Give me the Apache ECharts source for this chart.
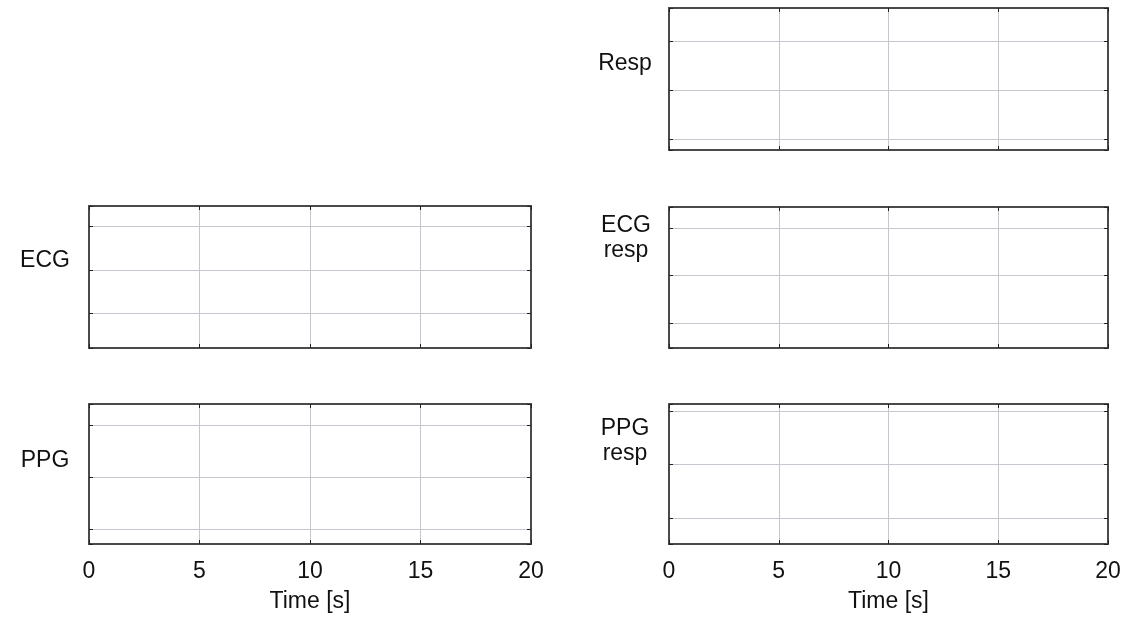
<!DOCTYPE html>
<html>
<head>
<meta charset="utf-8">
<script src="https://cdn.jsdelivr.net/npm/echarts@6/dist/echarts.min.js"></script>
<style>
  html, body { margin: 0; padding: 0; background: #ffffff; }
  #chart { width: 1125px; height: 619px; }
</style>
</head>
<body>
<div id="chart"></div>
<script>
// ---- data ----
const timeTicks = [0, 5, 10, 15, 20];
const panelNames = ['Resp', 'ECG', 'ECG\nresp', 'PPG', 'PPG\nresp'];
const yMinValues = [-1.22, -1.79, -1.53, -1.29, -1.49];
const yMaxValues = [1.67, 1.46, 1.44, 1.40, 1.13];
const xAxisTitle = 'Time [s]';
const respData = [];
const ecgData = [];
const ecgRespData = [];
const ppgData = [];
const ppgRespData = [];
const seriesData = [respData, ecgData, ecgRespData, ppgData, ppgRespData];

// ---- layout ----
const FONT = 'Liberation Sans, Arial, Helvetica, sans-serif';
const FS = 23;
const grids = [
  { left: 669, top: 8,   width: 439, height: 142 },
  { left: 89,  top: 206, width: 442, height: 142 },
  { left: 669, top: 207, width: 439, height: 141 },
  { left: 89,  top: 404, width: 442, height: 140 },
  { left: 669, top: 404, width: 439, height: 140 }
];
const showXLabels = [false, false, false, true, true];
const labelPos = [[625, 64], [45, 261], [626, 238], [45, 461], [625, 441]];

const lineCol = '#4a4a4a';
const gridCol = '#c6c6ce';
const tickCol = '#222222';

const xAxes = [], yAxes = [], series = [], graphics = [];
grids.forEach((g, i) => {
  const xMin = timeTicks[0], xMax = timeTicks[timeTicks.length - 1];
  const xInt = timeTicks[1] - timeTicks[0];
  xAxes.push({
    type: 'value', gridIndex: i, position: 'bottom', min: xMin, max: xMax, interval: xInt,
    axisLine: { show: true, onZero: false, lineStyle: { color: lineCol, width: 2 } },
    axisTick: { show: true, inside: true, length: 4, lineStyle: { color: tickCol } },
    axisLabel: { show: showXLabels[i], fontSize: FS, fontFamily: FONT, color: '#111', margin: 16 },
    splitLine: { show: true, lineStyle: { color: gridCol, width: 1 } },
    name: showXLabels[i] ? xAxisTitle : '',
    nameLocation: 'middle', nameGap: 46,
    nameTextStyle: { fontSize: FS, fontFamily: FONT, color: '#111' }
  });
  xAxes.push({
    type: 'value', gridIndex: i, position: 'top', min: xMin, max: xMax, interval: xInt,
    axisLine: { show: true, onZero: false, lineStyle: { color: lineCol, width: 2 } },
    axisTick: { show: true, inside: true, length: 4, lineStyle: { color: tickCol } },
    axisLabel: { show: false }, splitLine: { show: false }
  });
  yAxes.push({
    type: 'value', gridIndex: i, position: 'left', min: yMinValues[i], max: yMaxValues[i], splitNumber: 3,
    axisLine: { show: true, onZero: false, lineStyle: { color: lineCol, width: 2 } },
    axisTick: { show: true, inside: true, length: 4, lineStyle: { color: tickCol } },
    axisLabel: { show: false },
    splitLine: { show: true, lineStyle: { color: gridCol, width: 1 } }
  });
  yAxes.push({
    type: 'value', gridIndex: i, position: 'right', min: yMinValues[i], max: yMaxValues[i], splitNumber: 3,
    axisLine: { show: true, onZero: false, lineStyle: { color: lineCol, width: 2 } },
    axisTick: { show: true, inside: true, length: 4, lineStyle: { color: tickCol } },
    axisLabel: { show: false }, splitLine: { show: false }
  });
  series.push({
    type: 'line', name: panelNames[i].replace('\n', ' '),
    xAxisIndex: 2 * i, yAxisIndex: 2 * i,
    data: seriesData[i], showSymbol: false,
    lineStyle: { color: '#000', width: 1 }
  });
  graphics.push({
    type: 'text', x: labelPos[i][0], y: labelPos[i][1],
    style: {
      text: panelNames[i], fontSize: FS, fontFamily: FONT, fill: '#111',
      textAlign: 'center', textVerticalAlign: 'middle', lineHeight: 25
    }
  });
});

const chart = echarts.init(document.getElementById('chart'), null, { renderer: 'canvas' });
chart.setOption({
  animation: false,
  backgroundColor: '#ffffff',
  grid: grids.map(g => Object.assign({ containLabel: false }, g)),
  xAxis: xAxes,
  yAxis: yAxes,
  series: series,
  graphic: graphics
});
</script>
</body>
</html>
